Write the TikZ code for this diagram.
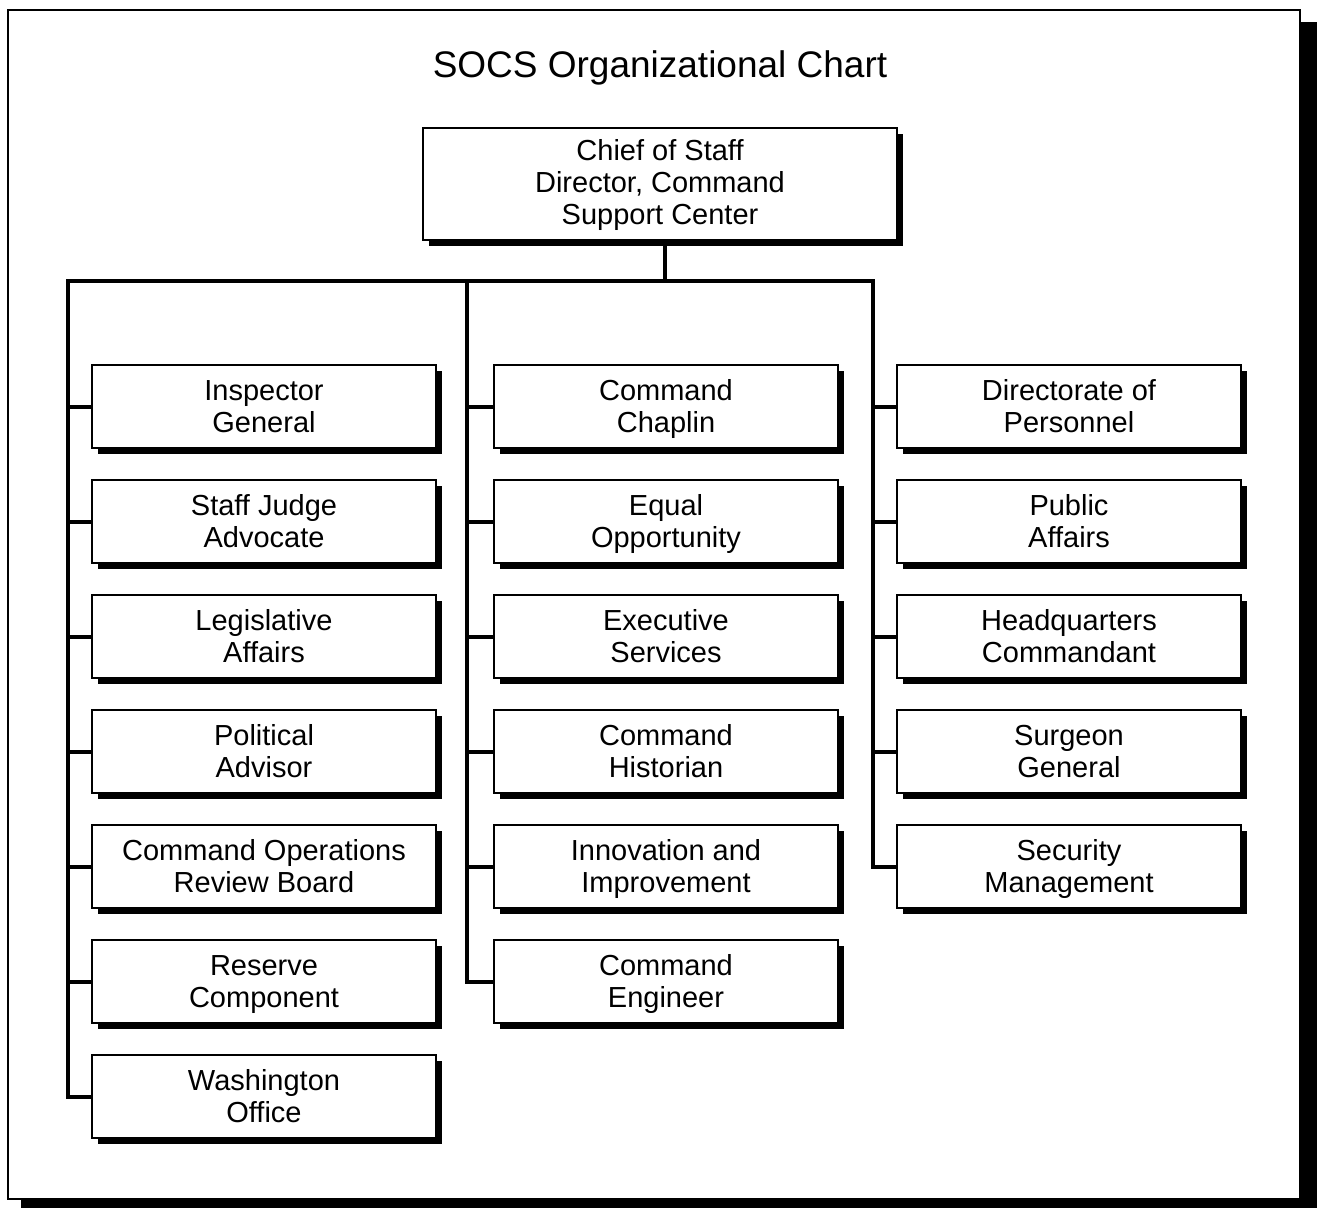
\documentclass[tikz,border=0pt]{standalone}
\usepackage{fontspec}
\setmainfont{Liberation Sans}
\usetikzlibrary{shadows}
\begin{document}
\begin{tikzpicture}[x=0.75pt,y=-0.75pt,
  orgbox/.style={draw=black, line width=1.5pt, fill=white, align=center,
    minimum width=258pt, minimum height=62.25pt, inner sep=0pt,
    text height=38.3pt, text depth=0pt,
    font=\fontsize{21.75pt}{24pt}\selectfont,
    drop shadow={shadow xshift=4.5pt, shadow yshift=-4.5pt, opacity=1, fill=black}},
  topbox/.style={orgbox, minimum width=355.5pt, minimum height=84pt, text height=60.8pt},
  conn/.style={line width=3pt, line join=miter, line cap=rect}
]
\useasboundingbox (0,0) rectangle (1317,1207);
\clip (0,0) rectangle (1317,1207);
% outer frame with shadow
\fill[black] (21,22) rectangle (1320,1212);
\draw[line width=1.5pt, fill=white] (8,10) rectangle (1300,1199);

\node[font=\fontsize{27.75pt}{30pt}\selectfont] (title) at (660,68) {SOCS Organizational Chart};

\node[topbox] (top) at (660,184) {Chief of Staff\\Director, Command\\Support Center};

% left column
\node[orgbox] (l1) at (264,406.5) {Inspector\\General};
\node[orgbox] (l2) at (264,521.5) {Staff Judge\\Advocate};
\node[orgbox] (l3) at (264,636.5) {Legislative\\Affairs};
\node[orgbox] (l4) at (264,751.5) {Political\\Advisor};
\node[orgbox] (l5) at (264,866.5) {Command Operations\\Review Board};
\node[orgbox] (l6) at (264,981.5) {Reserve\\Component};
\node[orgbox] (l7) at (264,1096.5) {Washington\\Office};
% middle column
\node[orgbox] (m1) at (666,406.5) {Command\\Chaplin};
\node[orgbox] (m2) at (666,521.5) {Equal\\Opportunity};
\node[orgbox] (m3) at (666,636.5) {Executive\\Services};
\node[orgbox] (m4) at (666,751.5) {Command\\Historian};
\node[orgbox] (m5) at (666,866.5) {Innovation and\\Improvement};
\node[orgbox] (m6) at (666,981.5) {Command\\Engineer};
% right column
\node[orgbox] (r1) at (1069,406.5) {Directorate of\\Personnel};
\node[orgbox] (r2) at (1069,521.5) {Public\\Affairs};
\node[orgbox] (r3) at (1069,636.5) {Headquarters\\Commandant};
\node[orgbox] (r4) at (1069,751.5) {Surgeon\\General};
\node[orgbox] (r5) at (1069,866.5) {Security\\Management};

\coordinate (busL) at (68,281);
\coordinate (busM) at (467,281);
\coordinate (busR) at (873,281);

\draw[conn] ([xshift=3.75pt]top.south) -- ([xshift=3.75pt]top.south |- busL);
\draw[conn] (l7.west) -| (busL) -- (busR) |- (r5.west);
\draw[conn] (busM) |- (m6.west);
\foreach \n in {l1,l2,l3,l4,l5,l6} \draw[conn] (\n.west) -- (\n.west -| busL);
\foreach \n in {m1,m2,m3,m4,m5} \draw[conn] (\n.west) -- (\n.west -| busM);
\foreach \n in {r1,r2,r3,r4} \draw[conn] (\n.west) -- (\n.west -| busR);
\end{tikzpicture}
\end{document}
